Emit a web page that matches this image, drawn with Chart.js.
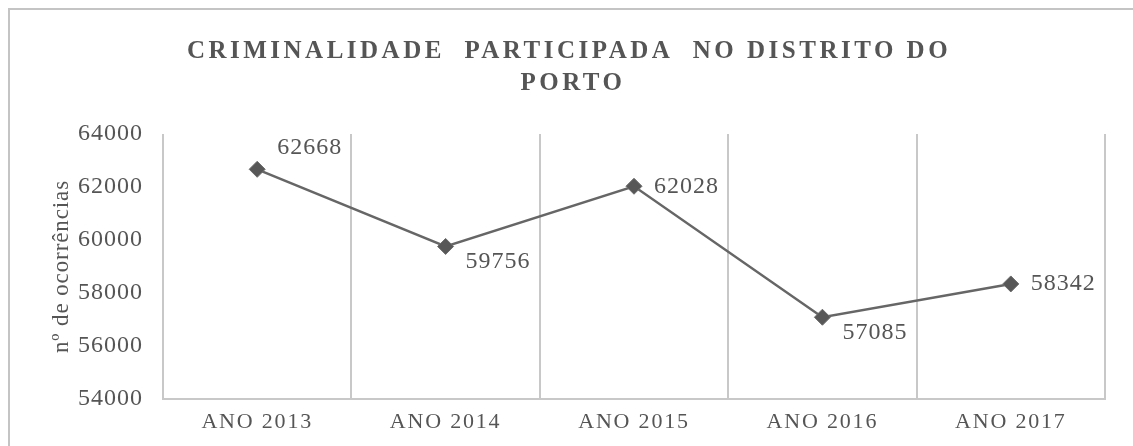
<!DOCTYPE html>
<html>
<head>
<meta charset="utf-8">
<script src="https://cdn.jsdelivr.net/npm/chart.js@4/dist/chart.umd.min.js"></script>
<style>
  body { margin: 0; background: #fff; overflow: hidden; }
  #frame { position: absolute; left: 8px; top: 8px; width: 1200px; height: 500px; border: 2px solid #c4c4c4; }
  #chart { position: absolute; left: 0; top: 0; }
</style>
</head>
<body>
<div id="frame"></div>
<canvas id="chart" width="1133" height="446"></canvas>
<script>
/* =================================================================
    Data
================================================================= */

var categories = ["ANO 2013", "ANO 2014", "ANO 2015", "ANO 2016", "ANO 2017"];
var ocorrencias = [62668, 59756, 62028, 57085, 58342];
var yTicks = [54000, 56000, 58000, 60000, 62000, 64000];

var titleLines = ["CRIMINALIDADE  PARTICIPADA  NO DISTRITO DO", "PORTO"];
var grey = "#555555";
var serif = "'Liberation Serif', 'Times New Roman', serif";

/* =================================================================
    Plugins: title, point labels, letter spacing
================================================================= */

var spacedText = {
    id: 'spacedText',
    beforeDraw: function (chart) {
        var ctx = chart.ctx;
        function wrap(scale, name, spacing) {
            if (scale['_w_' + name]) return;
            var orig = scale[name];
            scale[name] = function (a) {
                ctx.save();
                ctx.letterSpacing = spacing;
                orig.call(this, a);
                ctx.restore();
            };
            scale['_w_' + name] = true;
        }
        wrap(chart.scales.x, 'drawLabels', '1.8px');
        wrap(chart.scales.y, 'drawLabels', '1px');
        wrap(chart.scales.y, 'drawTitle', '0.9px');
    }
};

var chartTitle = {
    id: 'chartTitle',
    afterDraw: function (chart) {
        var ctx = chart.ctx;
        ctx.save();
        ctx.font = "bold 25px " + serif;
        ctx.letterSpacing = '3.5px';
        ctx.fillStyle = grey;
        ctx.textAlign = 'center';
        ctx.textBaseline = 'alphabetic';
        ctx.fillText(titleLines[0], 569, 58);
        ctx.fillText(titleLines[1], 573, 90);
        ctx.restore();
    }
};

var labelDy = [-22, 15, 0, 15, 0];

var pointLabels = {
    id: 'pointLabels',
    afterDatasetsDraw: function (chart) {
        var ctx = chart.ctx;
        var meta = chart.getDatasetMeta(0);
        ctx.save();
        ctx.font = "24px " + serif;
        ctx.letterSpacing = '1px';
        ctx.fillStyle = grey;
        ctx.textAlign = 'left';
        ctx.textBaseline = 'middle';
        meta.data.forEach(function (pt, i) {
            ctx.fillText(String(ocorrencias[i]), pt.x + 20, pt.y + labelDy[i]);
        });
        ctx.restore();
    }
};

/* =================================================================
    Line chart
================================================================= */

var ctx = document.getElementById("chart");

var data = {
    labels: categories,
    datasets: [{
        label: "nº de ocorrências",
        data: ocorrencias,
        borderColor: "#666666",
        borderWidth: 2.5,
        pointStyle: 'rectRot',
        pointRadius: 8,
        pointBackgroundColor: "#575757",
        pointBorderColor: "#6b6b6b",
        pointBorderWidth: 1,
        tension: 0
    }]
};

var myChart = new Chart(ctx, {
    type: 'line',
    data: data,
    plugins: [spacedText, chartTitle, pointLabels],
    options: {
        responsive: false,
        animation: false,
        layout: { padding: { top: 134, right: 28, left: 0, bottom: 0 } },
        plugins: {
            legend: { display: false },
            title: { display: false },
            tooltip: { enabled: false }
        },
        scales: {
            x: {
                offset: true,
                grid: { offset: true, color: "#c8c8c8", lineWidth: 2, drawTicks: false },
                border: { display: true, color: "#c8c8c8", width: 2 },
                ticks: { font: { family: serif, size: 22 }, color: grey, padding: 10 },
                afterFit: function (s) { s.height = 47; }
            },
            y: {
                min: yTicks[0],
                max: yTicks[yTicks.length - 1],
                afterBuildTicks: function (s) {
                    s.ticks = yTicks.map(function (v) { return { value: v }; });
                },
                grid: { display: false, drawTicks: false },
                border: { display: false },
                ticks: {
                    font: { family: serif, size: 24 },
                    color: grey,
                    padding: 20,
                    callback: function (v) { return String(v); }
                },
                title: {
                    display: true,
                    text: "nº de ocorrências",
                    font: { family: serif, size: 23 },
                    color: grey,
                    padding: { top: 48 }
                },
                afterFit: function (s) { s.width = 163; }
            }
        }
    }
});
</script>
</body>
</html>
